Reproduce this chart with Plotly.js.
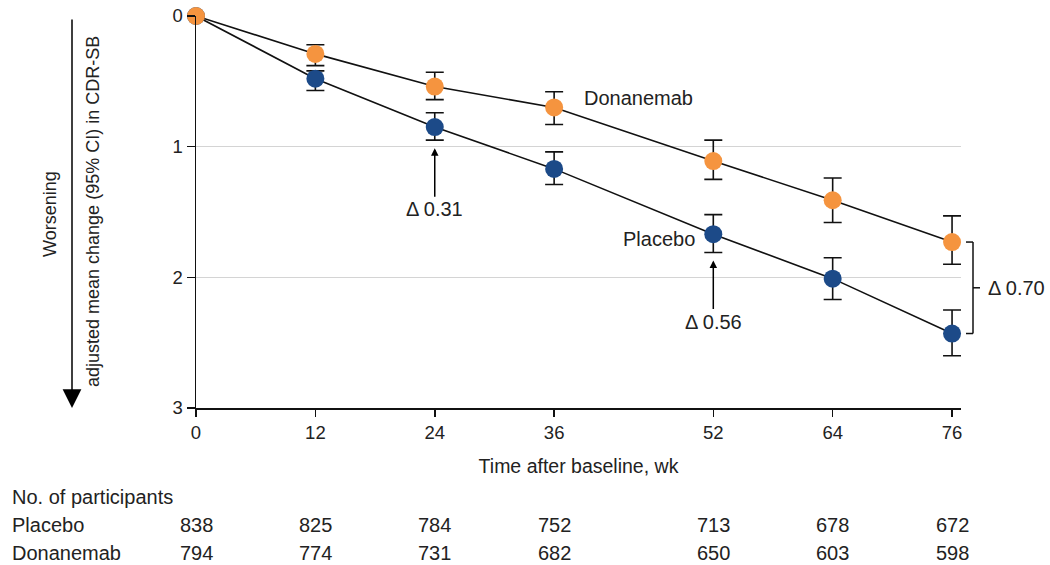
<!DOCTYPE html>
<html>
<head>
<meta charset="utf-8">
<script src="https://cdn.plot.ly/plotly-3.0.1.min.js"></script>
<style>
  html, body { margin: 0; padding: 0; background: #ffffff; }
  #chart { width: 1050px; height: 565px; }
</style>
</head>
<body>
<div id="chart"></div>
<script>
// Weeks after baseline
const weeks = [0, 12, 24, 36, 52, 64, 76];

// Adjusted mean change in CDR-SB with 95% CI bounds
const placeboMean = [0, 0.48, 0.85, 1.17, 1.67, 2.01, 2.43];
const placeboLow  = [0, 0.42, 0.74, 1.04, 1.52, 1.85, 2.25];
const placeboHigh = [0, 0.57, 0.95, 1.29, 1.81, 2.17, 2.60];

const donanemabMean = [0, 0.29, 0.54, 0.70, 1.11, 1.41, 1.73];
const donanemabLow  = [0, 0.22, 0.43, 0.58, 0.95, 1.24, 1.53];
const donanemabHigh = [0, 0.38, 0.64, 0.83, 1.25, 1.58, 1.90];

// Participants remaining at each visit
const placeboN   = [838, 825, 784, 752, 713, 678, 672];
const donanemabN = [794, 774, 731, 682, 650, 603, 598];

// Visits where the between-group difference is called out
const deltaWeeks = [24, 52];

const FONT = 'Liberation Sans, Arial, Helvetica, sans-serif';
const ORANGE = '#F5943F';
const NAVY = '#1C4A88';
const TEXT = '#222222';

// A little room past the last visit so its error-bar caps are not cut off
const xMax = 76.9;

function errPlus(mean, high) { return mean.map((m, i) => +(high[i] - m).toFixed(3)); }
function errMinus(mean, low) { return mean.map((m, i) => +(m - low[i]).toFixed(3)); }
function delta(i) { return (placeboMean[i] - donanemabMean[i]).toFixed(2); }

function seriesTrace(name, mean, low, high, color) {
  return {
    type: 'scatter',
    mode: 'lines+markers',
    name: name,
    x: weeks,
    y: mean,
    cliponaxis: false,
    line: { color: '#111111', width: 1.6 },
    marker: { color: color, size: 18, line: { width: 0 } },
    error_y: {
      type: 'data',
      symmetric: false,
      array: errPlus(mean, high),
      arrayminus: errMinus(mean, low),
      color: '#111111',
      thickness: 1.6,
      width: 9
    },
    hoverinfo: 'x+y'
  };
}

const traces = [
  seriesTrace('Placebo', placeboMean, placeboLow, placeboHigh, NAVY),
  seriesTrace('Donanemab', donanemabMean, donanemabLow, donanemabHigh, ORANGE)
];

// Paper-x helper: plot area spans 765 px starting 196 px from the left edge
const plotW = 765;
function px(p) { return (p - 196) / plotW; }

const annotations = [];

// Two-line rotated y-axis caption with a downward "worsening" arrow
annotations.push({
  xref: 'paper', yref: 'paper', x: px(93), y: 0.5,
  text: 'adjusted mean change (95% CI) in CDR-SB', textangle: -90,
  showarrow: false, font: { family: FONT, size: 18, color: TEXT },
  xanchor: 'center', yanchor: 'middle'
});
annotations.push({
  xref: 'paper', yref: 'paper', x: px(50), y: 0.495,
  text: 'Worsening', textangle: -90,
  showarrow: false, font: { family: FONT, size: 18, color: TEXT },
  xanchor: 'center', yanchor: 'middle'
});
annotations.push({
  xref: 'paper', yref: 'paper', x: px(72), y: 0.0,
  axref: 'pixel', ayref: 'pixel', ax: 0, ay: -390,
  text: '', showarrow: true,
  arrowhead: 2, arrowsize: 2.5, arrowwidth: 1.5, arrowcolor: '#000'
});

// Series labels
annotations.push({
  xref: 'x', yref: 'y', x: 38.8, y: 0.63, text: 'Donanemab',
  showarrow: false, xanchor: 'left', yanchor: 'middle',
  font: { family: FONT, size: 20, color: TEXT }
});
annotations.push({
  xref: 'x', yref: 'y', x: 50.4, y: 1.71, text: 'Placebo',
  showarrow: false, xanchor: 'right', yanchor: 'middle',
  font: { family: FONT, size: 20, color: TEXT }
});

// Difference call-outs pointing at the placebo CI
deltaWeeks.forEach(w => {
  const i = weeks.indexOf(w);
  annotations.push({
    xref: 'x', yref: 'y', x: w, y: placeboHigh[i],
    axref: 'pixel', ayref: 'pixel', ax: 0, ay: 69,
    standoff: 8,
    text: '\u0394 ' + delta(i),
    showarrow: true, arrowhead: 2, arrowsize: 1, arrowwidth: 1.5, arrowcolor: '#000',
    font: { family: FONT, size: 20, color: TEXT }
  });
});

// Bracketed difference at the final visit
const last = weeks.length - 1;
const midLast = (placeboMean[last] + donanemabMean[last]) / 2;
annotations.push({
  xref: 'paper', yref: 'y', x: px(986), y: midLast,
  text: '\u0394 ' + delta(last), showarrow: false,
  xanchor: 'left', yanchor: 'middle',
  font: { family: FONT, size: 20, color: TEXT }
});

// Participants table below the axis
const rowY = { header: -0.227, placebo: -0.2985, donanemab: -0.370 };
const rowLabelX = px(10);
const tableFont = { family: FONT, size: 20, color: TEXT };
annotations.push({
  xref: 'paper', yref: 'paper', x: rowLabelX, y: rowY.header, text: 'No. of participants',
  showarrow: false, xanchor: 'left', yanchor: 'middle', font: tableFont
});
annotations.push({
  xref: 'paper', yref: 'paper', x: rowLabelX, y: rowY.placebo, text: 'Placebo',
  showarrow: false, xanchor: 'left', yanchor: 'middle', font: tableFont
});
annotations.push({
  xref: 'paper', yref: 'paper', x: rowLabelX, y: rowY.donanemab, text: 'Donanemab',
  showarrow: false, xanchor: 'left', yanchor: 'middle', font: tableFont
});
weeks.forEach((w, i) => {
  annotations.push({
    xref: 'x', yref: 'paper', x: w, y: rowY.placebo, text: String(placeboN[i]),
    showarrow: false, xanchor: 'center', yanchor: 'middle', font: tableFont
  });
  annotations.push({
    xref: 'x', yref: 'paper', x: w, y: rowY.donanemab, text: String(donanemabN[i]),
    showarrow: false, xanchor: 'center', yanchor: 'middle', font: tableFont
  });
});

// Bracket joining the two final-visit means
const bx = px(973), bxIn = px(966), bxOut = px(980);
const bracketLine = { color: '#111', width: 1.5 };
const shapes = [
  { type: 'line', xref: 'paper', yref: 'y', x0: bx, x1: bx, y0: donanemabMean[last], y1: placeboMean[last], line: bracketLine },
  { type: 'line', xref: 'paper', yref: 'y', x0: bxIn, x1: bx, y0: donanemabMean[last], y1: donanemabMean[last], line: bracketLine },
  { type: 'line', xref: 'paper', yref: 'y', x0: bxIn, x1: bx, y0: placeboMean[last], y1: placeboMean[last], line: bracketLine },
  { type: 'line', xref: 'paper', yref: 'y', x0: bx, x1: bxOut, y0: midLast, y1: midLast, line: bracketLine }
];

const layout = {
  width: 1050,
  height: 565,
  margin: { l: 196, r: 1050 - 196 - plotW, t: 16, b: 157 },
  paper_bgcolor: '#ffffff',
  plot_bgcolor: '#ffffff',
  showlegend: false,
  font: { family: FONT, size: 18, color: TEXT },
  xaxis: {
    range: [0, xMax],
    tickvals: weeks,
    ticktext: weeks.map(String),
    ticks: 'outside', ticklen: 7, tickwidth: 1.5, tickcolor: '#111',
    showline: true, linecolor: '#111', linewidth: 1.5,
    showgrid: false, zeroline: false,
    tickfont: { family: FONT, size: 18.5, color: TEXT },
    title: { text: 'Time after baseline, wk', standoff: 17, font: { family: FONT, size: 19.5, color: TEXT } }
  },
  yaxis: {
    range: [3, 0],
    tickvals: [0, 1, 2, 3],
    ticks: 'outside', ticklen: 8, tickwidth: 1.5, tickcolor: '#111',
    showline: true, linecolor: '#111', linewidth: 1.5,
    showgrid: true, gridcolor: '#d4d4d4', gridwidth: 1,
    zeroline: false,
    tickfont: { family: FONT, size: 18.5, color: TEXT }
  },
  annotations: annotations,
  shapes: shapes
};

Plotly.newPlot('chart', traces, layout, { displayModeBar: false, staticPlot: true });
</script>
</body>
</html>
